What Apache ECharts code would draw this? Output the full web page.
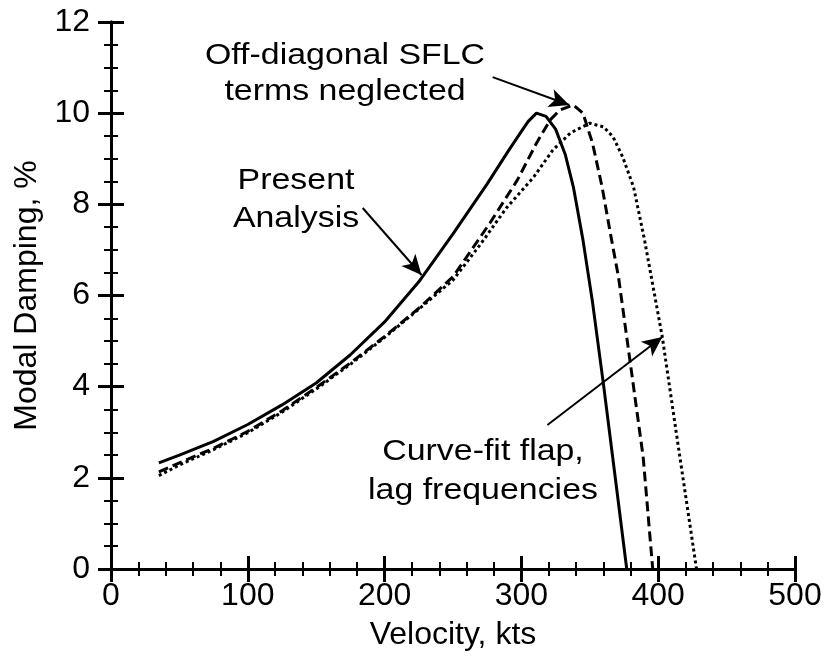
<!DOCTYPE html>
<html>
<head>
<meta charset="utf-8">
<script src="https://cdn.jsdelivr.net/npm/echarts@6/dist/echarts.min.js"></script>
<style>html,body{margin:0;padding:0;background:#fff}#c{width:827px;height:662px}</style>
</head>
<body>
<div id="c"></div>
<script>
// ---- data ----
const xTicks = [0, 100, 200, 300, 400, 500];
const yTicks = [0, 2, 4, 6, 8, 10, 12];

const presentV = [35, 50, 75, 100, 125, 150, 175, 200, 225, 250, 275, 290, 300, 305, 311, 318, 325, 332, 338, 345, 352, 360, 368, 377];
const presentD = [2.33, 2.5, 2.8, 3.17, 3.6, 4.08, 4.7, 5.42, 6.3, 7.35, 8.45, 9.15, 9.6, 9.82, 10.0, 9.93, 9.65, 9.1, 8.38, 7.22, 5.85, 4.05, 2.15, 0];

const offDiagV = [35, 50, 75, 100, 125, 150, 175, 200, 225, 250, 277, 297, 311, 321, 328, 338, 345, 352, 359, 365, 371, 379, 389, 396];
const offDiagD = [2.13, 2.33, 2.65, 3.02, 3.47, 3.98, 4.52, 5.1, 5.72, 6.41, 7.59, 8.53, 9.34, 9.85, 10.07, 10.18, 10.0, 9.34, 8.38, 7.37, 6.4, 4.65, 2.46, 0];

const curveFitV = [35, 50, 75, 100, 125, 150, 175, 200, 225, 250, 270, 289, 309, 323, 336, 350, 360, 367, 374, 382, 390, 403, 414, 428];
const curveFitD = [2.05, 2.28, 2.62, 2.99, 3.44, 3.95, 4.49, 5.08, 5.7, 6.34, 7.12, 7.92, 8.6, 9.19, 9.57, 9.78, 9.7, 9.48, 9.04, 8.38, 7.22, 5.09, 2.83, 0];

// annotation arrows [tailV, tailD, headV, headD]
const arrowPresent = [184, 7.92, 227, 6.45];
const arrowOffDiag = [279, 10.79, 335, 10.18];
const arrowCurveFit = [319, 3.16, 403, 5.09];

const labelPresent = 'Present\nAnalysis';
const labelOffDiag = 'Off-diagonal SFLC\nterms neglected';
const labelCurveFit = 'Curve-fit flap,\nlag frequencies';

// ---- chart ----
const FONT = '"Liberation Sans", Arial, Helvetica, sans-serif';
const FS = 32;
const AFS = 30;      // annotation font size
const ASX = 1.13;    // horizontal stretch of annotation text
const zip = (a, b) => a.map((v, i) => [v, b[i]]);
const arrowLine = a => [{ coord: [a[0], a[1]] }, { coord: [a[2], a[3]] }];

const axisCommon = {
  type: 'value',
  axisLine: { show: true, lineStyle: { color: '#000', width: 3 } },
  axisTick: { show: true, inside: true, length: 13, lineStyle: { color: '#000', width: 3 } },
  minorTick: { show: true, length: 7, lineStyle: { color: '#000', width: 2 } },
  splitLine: { show: false },
  minorSplitLine: { show: false }
};
const arrowMark = a => ({
  silent: true, symbol: ['none', 'arrow'], symbolSize: [14, 20],
  label: { show: false }, lineStyle: { color: '#000', width: 2, type: 'solid' },
  data: [arrowLine(a)]
});

const chart = echarts.init(document.getElementById('c'), null, { renderer: 'canvas' });
chart.setOption({
  animation: false,
  backgroundColor: '#fff',
  grid: { left: 111, right: 32, top: 22, bottom: 93 },
  xAxis: [
    Object.assign({}, axisCommon, {
      min: xTicks[0], max: xTicks[xTicks.length - 1], interval: 100,
      minorTick: Object.assign({}, axisCommon.minorTick, { splitNumber: 5 }),
      axisLabel: { color: '#000', fontSize: FS, fontFamily: FONT, margin: 11 },
      name: 'Velocity, kts', nameLocation: 'middle', nameGap: 50,
      nameTextStyle: { color: '#000', fontSize: FS, fontFamily: FONT }
    }),
    Object.assign({}, axisCommon, {
      position: 'top',
      min: xTicks[0], max: xTicks[xTicks.length - 1], interval: 100,
      minorTick: Object.assign({}, axisCommon.minorTick, { splitNumber: 5 }),
      axisLabel: { show: false }
    })
  ],
  yAxis: [
    Object.assign({}, axisCommon, {
      min: yTicks[0], max: yTicks[yTicks.length - 1], interval: 2,
      minorTick: Object.assign({}, axisCommon.minorTick, { splitNumber: 4 }),
      axisLabel: { color: '#000', fontSize: FS, fontFamily: FONT, margin: 21 },
      name: 'Modal Damping, %', nameLocation: 'middle', nameGap: 68,
      nameTextStyle: { color: '#000', fontSize: FS, fontFamily: FONT }
    }),
    Object.assign({}, axisCommon, {
      position: 'right',
      min: yTicks[0], max: yTicks[yTicks.length - 1], interval: 2,
      minorTick: Object.assign({}, axisCommon.minorTick, { splitNumber: 4 }),
      axisLabel: { show: false }
    })
  ],
  series: [
    {
      name: 'Present Analysis', type: 'line', data: zip(presentV, presentD),
      showSymbol: false, symbol: 'none',
      lineStyle: { color: '#000', width: 3 },
      markLine: arrowMark(arrowPresent)
    },
    {
      name: 'Off-diagonal SFLC terms neglected', type: 'line', data: zip(offDiagV, offDiagD),
      showSymbol: false, symbol: 'none',
      lineStyle: { color: '#000', width: 3, type: [10, 5] },
      markLine: arrowMark(arrowOffDiag)
    },
    {
      name: 'Curve-fit flap, lag frequencies', type: 'line', data: zip(curveFitV, curveFitD),
      showSymbol: false, symbol: 'none',
      lineStyle: { color: '#000', width: 3, type: [3, 3] },
      markLine: arrowMark(arrowCurveFit)
    }
  ],
  graphic: [
    {
      type: 'text', x: 296, y: 162, scaleX: ASX,
      style: { text: labelPresent, fontSize: AFS, fontFamily: FONT, fill: '#000', align: 'center', verticalAlign: 'top', lineHeight: 38 }
    },
    {
      type: 'text', x: 345, y: 38, scaleX: ASX,
      style: { text: labelOffDiag, fontSize: AFS, fontFamily: FONT, fill: '#000', align: 'center', verticalAlign: 'top', lineHeight: 36 }
    },
    {
      type: 'text', x: 483, y: 432, scaleX: ASX,
      style: { text: labelCurveFit, fontSize: AFS, fontFamily: FONT, fill: '#000', align: 'center', verticalAlign: 'top', lineHeight: 39 }
    }
  ]
});
</script>
</body>
</html>
